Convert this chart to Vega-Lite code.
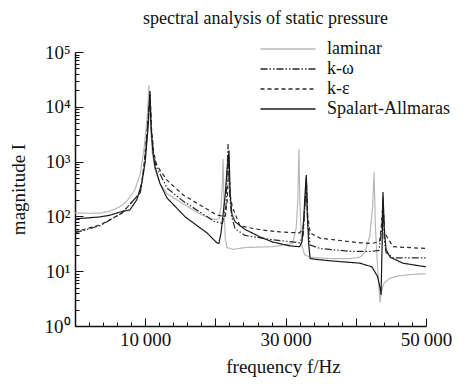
{
"$schema": "https://vega.github.io/schema/vega-lite/v6.json",
"width": 351, "height": 274,
"autosize": "none",
"padding": {"left": 75, "top": 52, "right": 50, "bottom": 58},
"background": "white",
"title": {"text": "spectral analysis of static pressure", "font": "Liberation Serif", "fontSize": 18, "fontWeight": "normal", "color": "#111", "anchor": "middle", "dx": 15, "offset": 12},
"datasets": {
"d": [
{"s":"laminar","f":0,"m":115},{"s":"laminar","f":2100,"m":114},{"s":"laminar","f":3600,"m":115},{"s":"laminar","f":5000,"m":125},{"s":"laminar","f":6400,"m":150},{"s":"laminar","f":7400,"m":190},{"s":"laminar","f":8500,"m":300},{"s":"laminar","f":9300,"m":600},{"s":"laminar","f":9900,"m":2000},{"s":"laminar","f":10300,"m":7000},{"s":"laminar","f":10540,"m":25000},{"s":"laminar","f":10750,"m":5000},{"s":"laminar","f":11000,"m":1500},{"s":"laminar","f":11400,"m":700},{"s":"laminar","f":12100,"m":400},{"s":"laminar","f":13100,"m":260},{"s":"laminar","f":15400,"m":170},{"s":"laminar","f":17800,"m":110},{"s":"laminar","f":19700,"m":88},{"s":"laminar","f":20500,"m":90},{"s":"laminar","f":20800,"m":150},{"s":"laminar","f":21000,"m":400},{"s":"laminar","f":21100,"m":1120},{"s":"laminar","f":21250,"m":120},{"s":"laminar","f":21400,"m":40},{"s":"laminar","f":21650,"m":27},{"s":"laminar","f":22500,"m":25},{"s":"laminar","f":24200,"m":27},{"s":"laminar","f":28200,"m":28},{"s":"laminar","f":31000,"m":32},{"s":"laminar","f":31500,"m":60},{"s":"laminar","f":31750,"m":200},{"s":"laminar","f":31900,"m":1700},{"s":"laminar","f":32050,"m":150},{"s":"laminar","f":32300,"m":30},{"s":"laminar","f":32700,"m":20},{"s":"laminar","f":33500,"m":18},{"s":"laminar","f":36300,"m":17},{"s":"laminar","f":39200,"m":17},{"s":"laminar","f":40600,"m":18},{"s":"laminar","f":41300,"m":22},{"s":"laminar","f":42000,"m":45},{"s":"laminar","f":42400,"m":150},{"s":"laminar","f":42600,"m":645},{"s":"laminar","f":42800,"m":60},{"s":"laminar","f":43100,"m":12},{"s":"laminar","f":43350,"m":4},{"s":"laminar","f":43450,"m":2.7},{"s":"laminar","f":43600,"m":4},{"s":"laminar","f":44000,"m":6},{"s":"laminar","f":44900,"m":7.5},{"s":"laminar","f":46300,"m":8.3},{"s":"laminar","f":48400,"m":8.8},{"s":"laminar","f":50000,"m":9},

{"s":"k-ω","f":0,"m":50},{"s":"k-ω","f":3600,"m":68},{"s":"k-ω","f":6700,"m":115},{"s":"k-ω","f":9300,"m":270},{"s":"k-ω","f":9800,"m":700},{"s":"k-ω","f":10300,"m":3500},{"s":"k-ω","f":10650,"m":16000},{"s":"k-ω","f":10900,"m":3500},{"s":"k-ω","f":11200,"m":1300},{"s":"k-ω","f":11600,"m":800},{"s":"k-ω","f":12100,"m":600},{"s":"k-ω","f":13100,"m":330},{"s":"k-ω","f":15400,"m":190},{"s":"k-ω","f":17800,"m":120},{"s":"k-ω","f":19900,"m":80},{"s":"k-ω","f":21000,"m":75},{"s":"k-ω","f":21500,"m":150},{"s":"k-ω","f":21800,"m":2100},{"s":"k-ω","f":22000,"m":300},{"s":"k-ω","f":22300,"m":100},{"s":"k-ω","f":22800,"m":60},{"s":"k-ω","f":24200,"m":45},{"s":"k-ω","f":27800,"m":38},{"s":"k-ω","f":32000,"m":33},{"s":"k-ω","f":32500,"m":45},{"s":"k-ω","f":32800,"m":200},{"s":"k-ω","f":32950,"m":520},{"s":"k-ω","f":33150,"m":80},{"s":"k-ω","f":33500,"m":30},{"s":"k-ω","f":34900,"m":26},{"s":"k-ω","f":39200,"m":23},{"s":"k-ω","f":42300,"m":23},{"s":"k-ω","f":43300,"m":24},{"s":"k-ω","f":43700,"m":60},{"s":"k-ω","f":43875,"m":230},{"s":"k-ω","f":44050,"m":40},{"s":"k-ω","f":44300,"m":22},{"s":"k-ω","f":45300,"m":17.5},{"s":"k-ω","f":50000,"m":17.5},

{"s":"k-ε","f":0,"m":52},{"s":"k-ε","f":3600,"m":70},{"s":"k-ε","f":6700,"m":115},{"s":"k-ε","f":9300,"m":270},{"s":"k-ε","f":9800,"m":800},{"s":"k-ε","f":10300,"m":4000},{"s":"k-ε","f":10700,"m":17000},{"s":"k-ε","f":10900,"m":4000},{"s":"k-ε","f":11200,"m":1500},{"s":"k-ε","f":11600,"m":900},{"s":"k-ε","f":12100,"m":700},{"s":"k-ε","f":13100,"m":460},{"s":"k-ε","f":15400,"m":246},{"s":"k-ε","f":17800,"m":162},{"s":"k-ε","f":20200,"m":106},{"s":"k-ε","f":21400,"m":100},{"s":"k-ε","f":21700,"m":200},{"s":"k-ε","f":21900,"m":1200},{"s":"k-ε","f":22100,"m":250},{"s":"k-ε","f":22400,"m":150},{"s":"k-ε","f":23500,"m":67},{"s":"k-ε","f":26400,"m":57},{"s":"k-ε","f":29200,"m":52},{"s":"k-ε","f":32000,"m":50},{"s":"k-ε","f":32500,"m":60},{"s":"k-ε","f":32800,"m":200},{"s":"k-ε","f":32950,"m":480},{"s":"k-ε","f":33150,"m":100},{"s":"k-ε","f":33500,"m":50},{"s":"k-ε","f":34900,"m":40},{"s":"k-ε","f":40600,"m":33},{"s":"k-ε","f":42300,"m":32},{"s":"k-ε","f":43400,"m":35},{"s":"k-ε","f":43700,"m":80},{"s":"k-ε","f":43875,"m":200},{"s":"k-ε","f":44100,"m":50},{"s":"k-ε","f":45300,"m":28},{"s":"k-ε","f":50000,"m":26},

{"s":"Spalart-Allmaras","f":0,"m":90},{"s":"Spalart-Allmaras","f":3600,"m":98},{"s":"Spalart-Allmaras","f":5000,"m":105},{"s":"Spalart-Allmaras","f":6400,"m":120},{"s":"Spalart-Allmaras","f":7800,"m":131},{"s":"Spalart-Allmaras","f":8800,"m":200},{"s":"Spalart-Allmaras","f":9500,"m":400},{"s":"Spalart-Allmaras","f":10000,"m":1000},{"s":"Spalart-Allmaras","f":10400,"m":4000},{"s":"Spalart-Allmaras","f":10680,"m":19400},{"s":"Spalart-Allmaras","f":10850,"m":4000},{"s":"Spalart-Allmaras","f":11100,"m":1500},{"s":"Spalart-Allmaras","f":11400,"m":800},{"s":"Spalart-Allmaras","f":12100,"m":400},{"s":"Spalart-Allmaras","f":13100,"m":217},{"s":"Spalart-Allmaras","f":15700,"m":98},{"s":"Spalart-Allmaras","f":18800,"m":50},{"s":"Spalart-Allmaras","f":20200,"m":33},{"s":"Spalart-Allmaras","f":20500,"m":32},{"s":"Spalart-Allmaras","f":20800,"m":50},{"s":"Spalart-Allmaras","f":21100,"m":110},{"s":"Spalart-Allmaras","f":21400,"m":250},{"s":"Spalart-Allmaras","f":21650,"m":700},{"s":"Spalart-Allmaras","f":21940,"m":1600},{"s":"Spalart-Allmaras","f":22100,"m":250},{"s":"Spalart-Allmaras","f":22350,"m":110},{"s":"Spalart-Allmaras","f":22800,"m":80},{"s":"Spalart-Allmaras","f":24200,"m":58},{"s":"Spalart-Allmaras","f":26400,"m":42},{"s":"Spalart-Allmaras","f":28200,"m":34},{"s":"Spalart-Allmaras","f":30600,"m":29},{"s":"Spalart-Allmaras","f":32000,"m":28},{"s":"Spalart-Allmaras","f":32350,"m":35},{"s":"Spalart-Allmaras","f":32600,"m":100},{"s":"Spalart-Allmaras","f":32800,"m":300},{"s":"Spalart-Allmaras","f":32950,"m":570},{"s":"Spalart-Allmaras","f":33100,"m":100},{"s":"Spalart-Allmaras","f":33300,"m":30},{"s":"Spalart-Allmaras","f":33500,"m":17},{"s":"Spalart-Allmaras","f":34200,"m":16.5},{"s":"Spalart-Allmaras","f":36300,"m":15.5},{"s":"Spalart-Allmaras","f":40600,"m":14},{"s":"Spalart-Allmaras","f":42300,"m":12},{"s":"Spalart-Allmaras","f":43100,"m":8},{"s":"Spalart-Allmaras","f":43450,"m":5},{"s":"Spalart-Allmaras","f":43600,"m":3.7},{"s":"Spalart-Allmaras","f":43750,"m":30},{"s":"Spalart-Allmaras","f":43875,"m":280},{"s":"Spalart-Allmaras","f":44050,"m":60},{"s":"Spalart-Allmaras","f":44300,"m":25},{"s":"Spalart-Allmaras","f":44900,"m":18},{"s":"Spalart-Allmaras","f":46700,"m":14},{"s":"Spalart-Allmaras","f":50000,"m":12}
]
},
"data": {"name": "d"},
"mark": {"type": "line", "strokeWidth": 1.2, "clip": true},
"encoding": {
 "x": {"field": "f", "type": "quantitative", "scale": {"domain": [0, 50000], "nice": false},
   "axis": {"title": "frequency f/Hz", "values": [0,2000,4000,6000,8000,10000,12000,14000,16000,18000,20000,22000,24000,26000,28000,30000,32000,34000,36000,38000,40000,42000,44000,46000,48000,50000],
     "labelExpr": "datum.value==10000?'10\u2009000':datum.value==30000?'30\u2009000':datum.value==50000?'50\u2009000':''",
     "tickSize": {"condition": {"test": "datum.value % 10000 == 0", "value": -8}, "value": -4},
     "labelPadding": 12, "titlePadding": 4, "titleX": 208}},
 "y": {"field": "m", "type": "quantitative", "scale": {"type": "log", "domain": [1, 100000]},
   "axis": {"title": "magnitude I", "values": [1,2,3,4,5,6,7,8,9,10,20,30,40,50,60,70,80,90,100,200,300,400,500,600,700,800,900,1000,2000,3000,4000,5000,6000,7000,8000,9000,10000,20000,30000,40000,50000,60000,70000,80000,90000,100000],
     "labelExpr": "datum.value==1?'10⁰':datum.value==10?'10¹':datum.value==100?'10²':datum.value==1000?'10³':datum.value==10000?'10⁴':datum.value==100000?'10⁵':''",
     "tickSize": {"condition": {"test": "abs(log(datum.value)/LN10 - round(log(datum.value)/LN10)) < 0.001", "value": -8}, "value": -4},
     "labelPadding": 13, "titlePadding": 16}},
 "color": {"field": "s", "type": "nominal", "title": null,
   "scale": {"domain": ["laminar", "k-ω", "k-ε", "Spalart-Allmaras"], "range": ["#b8b8b8", "#2a2a2a", "#2a2a2a", "#1a1a1a"]}},
 "strokeDash": {"field": "s", "type": "nominal", "title": null,
   "scale": {"domain": ["laminar", "k-ω", "k-ε", "Spalart-Allmaras"], "range": [[1, 0], [7, 2, 1.5, 2, 1.5, 2], [4, 3], [1, 0]]}}
},
"config": {
 "view": {"stroke": null},
 "axis": {"grid": false, "domainColor": "#111", "domainWidth": 1.5, "tickColor": "#111", "tickWidth": 1, "labelFont": "Liberation Serif", "labelFontSize": 19, "labelColor": "#111", "titleFont": "Liberation Serif", "titleFontSize": 19, "titleFontWeight": "normal", "titleColor": "#111", "labelOverlap": false, "labelFlush": false},
 "legend": {"orient": "none", "legendX": 204, "legendY": -12, "padding": 0, "labelFont": "Liberation Serif", "labelFontSize": 18, "labelColor": "#111", "symbolType": "M-4,0H4", "symbolSize": 189, "symbolStrokeWidth": 1.3, "labelOffset": 30, "rowPadding": 2, "labelLimit": 300}
}
}
